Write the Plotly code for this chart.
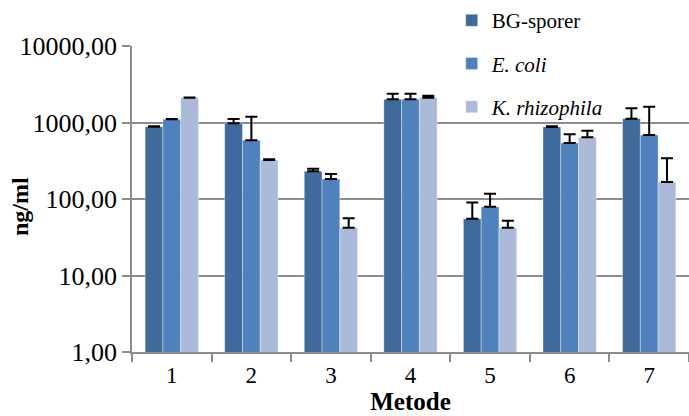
import plotly.graph_objects as go

categories = ["1", "2", "3", "4", "5", "6", "7"]
series_names = ["BG-sporer", "<i>E. coli</i>", "<i>K. rhizophila</i>"]
bg_values = [881, 976, 230, 2010, 55, 875, 1122]
bg_err = [15, 134, 19, 370, 35, 20, 408]
ecoli_values = [1100, 585, 183, 2010, 79, 540, 687]
ecoli_err = [15, 605, 29, 370, 38, 161, 923]
krhiz_values = [2110, 324, 42, 2110, 42, 640, 167]
krhiz_err = [20, 6, 14, 130, 10, 141, 173]
tick_vals = [1, 10, 100, 1000, 10000]
tick_text = ["1,00", "10,00", "100,00", "1000,00", "10000,00"]

colors = ["#3F6A9B", "#4F81BD", "#AABAD8"]
values = [bg_values, ecoli_values, krhiz_values]
errs = [bg_err, ecoli_err, krhiz_err]

fig = go.Figure()
for i in range(3):
    fig.add_trace(go.Bar(
        x=categories, y=values[i], name=series_names[i],
        marker=dict(color=colors[i], line=dict(color="rgba(255,255,255,0.6)", width=0.6)),
        error_y=dict(type="data", symmetric=False, array=errs[i], arrayminus=[0]*7,
                     color="black", thickness=2, width=6),
        legendgroup=f"g{i}",
    ))

serif = "Liberation Serif"
fig.update_layout(
    width=689, height=416,
    margin=dict(l=132, r=0, t=46, b=64, autoexpand=False),
    paper_bgcolor="white", plot_bgcolor="white",
    barmode="group", bargap=0.33, bargroupgap=0,
    font=dict(family=serif, size=26, color="black"),
    showlegend=True,
    legend=dict(x=0.574, y=1.15, xanchor="left", yanchor="top",
                bgcolor="rgba(0,0,0,0)", traceorder="grouped", tracegroupgap=13,
                font=dict(family=serif, size=21, color="black")),
    xaxis=dict(
        showline=True, linecolor="#8C8C8C", linewidth=1.5,
        ticks="outside", tickson="boundaries", ticklen=8, tickcolor="#8C8C8C", tickwidth=1.5,
        tickfont=dict(family=serif, size=23), ticklabelstandoff=2,
        title=dict(text="<b>Metode</b>", font=dict(family=serif, size=25), standoff=0),
    ),
    yaxis=dict(
        type="log", range=[0, 4],
        tickvals=tick_vals, ticktext=tick_text,
        showgrid=True, gridcolor="#8C8C8C", gridwidth=1.5,
        showline=True, linecolor="#8C8C8C", linewidth=1.5,
        ticks="outside", ticklen=8, tickcolor="#8C8C8C", tickwidth=1.5,
        tickfont=dict(family=serif, size=26),
        zeroline=False,
    ),
    annotations=[dict(
        text="<b>ng/ml</b>", textangle=-90, xref="paper", yref="paper",
        x=(20 - 132) / 557, y=(352 - 207) / 306, xanchor="center", yanchor="middle",
        showarrow=False, font=dict(family=serif, size=24, color="black"),
    )],
)

fig.write_html("out.html", post_script="document.body.style.margin='0';",
               config={"displayModeBar": False})
